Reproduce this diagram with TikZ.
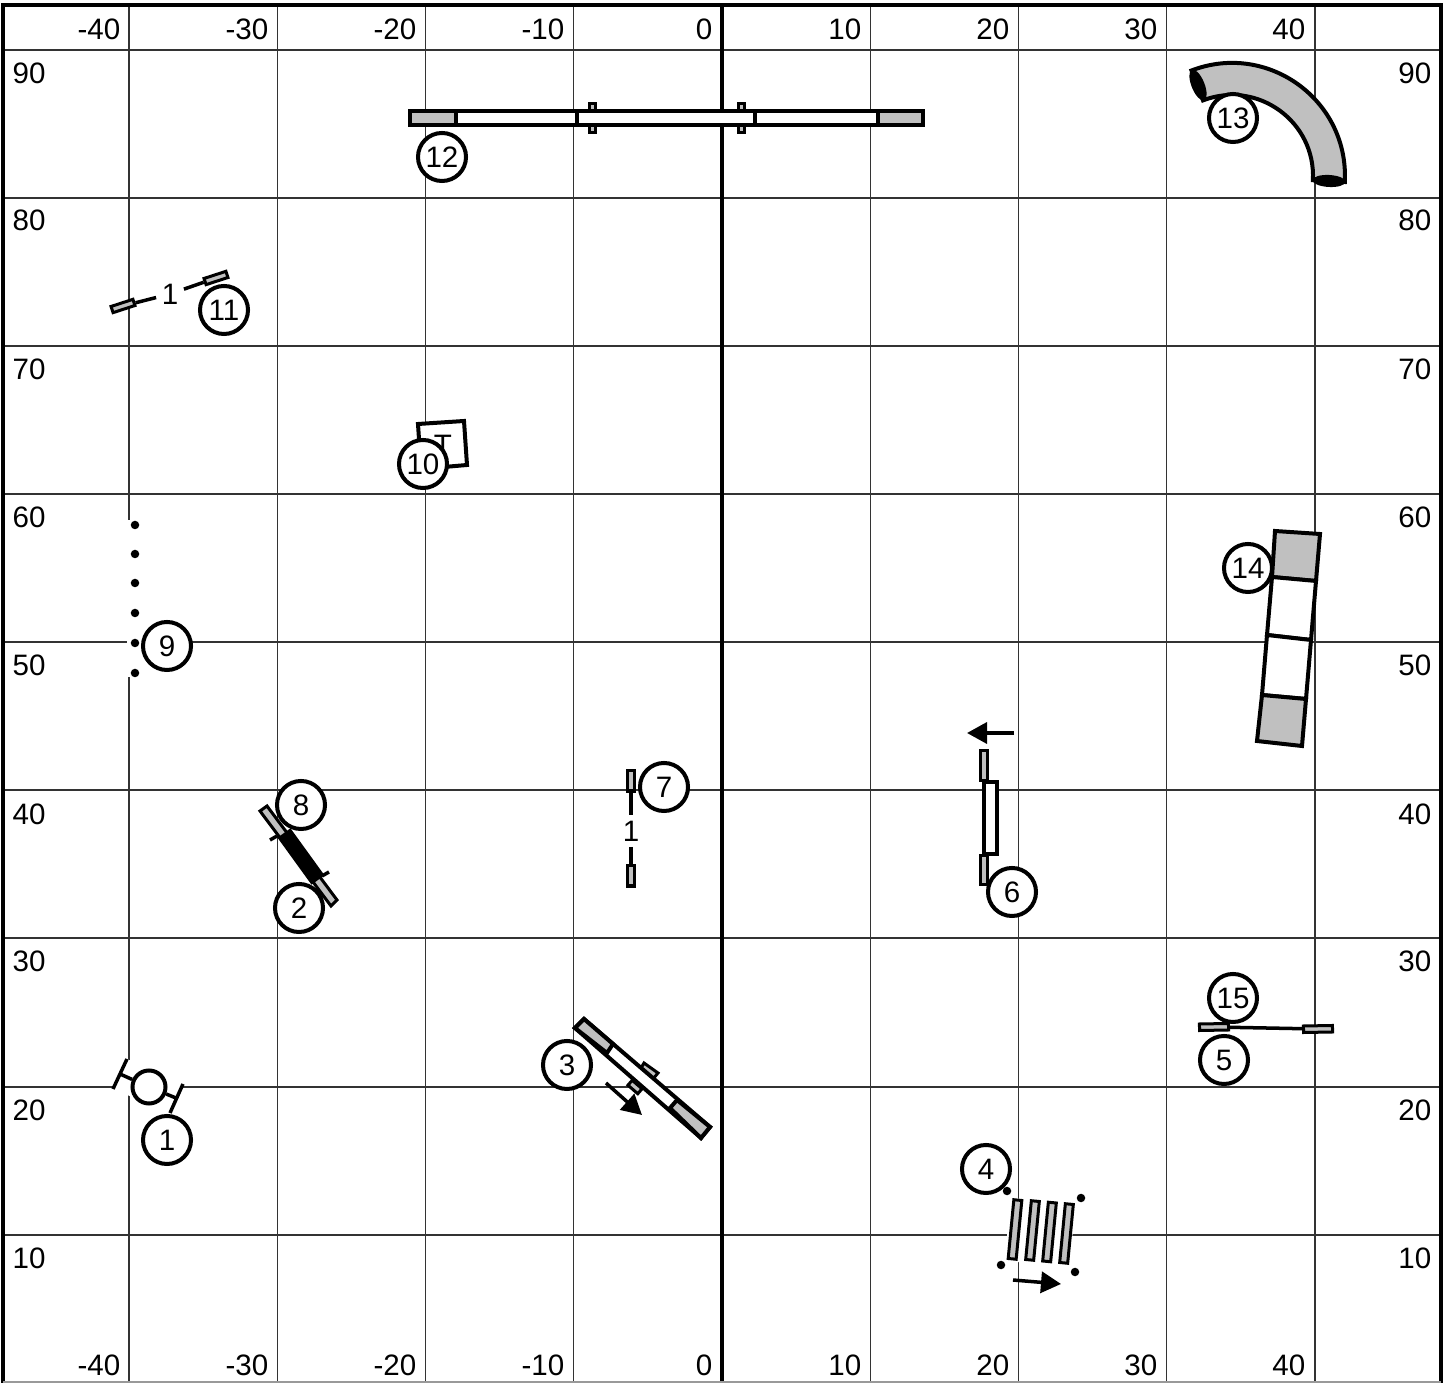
\documentclass[tikz,border=0pt]{standalone}
\usepackage{fontspec}
\setmainfont{Liberation Sans}
\usetikzlibrary{arrows.meta}
\definecolor{padgray}{HTML}{C0C0C0}
\begin{document}
\begin{tikzpicture}[x=0.01cm,y=-0.01cm,font=\fontsize{8.4pt}{10pt}\selectfont,
gridline/.style={line width=0.013cm,black!80},
axisline/.style={line width=0.035cm},
lab/.style={inner sep=0pt},
num/.style={draw,circle,fill=white,line width=0.04cm,minimum size=0.48cm,inner sep=0pt},
plank/.style={draw,line width=0.04cm,fill=white},
graypart/.style={draw,line width=0.04cm,fill=padgray},
thingray/.style={draw,line width=0.03cm,fill=padgray},
pad/.style={thingray,inner sep=0pt,minimum width=0.29cm,minimum height=0.065cm},
rung/.style={thingray,inner sep=0pt,minimum width=0.08cm,minimum height=0.59cm},
dot/.style={fill,circle,inner sep=0pt,minimum size=0.085cm},
wire/.style={line width=0.035cm},
dirarrow/.style={line width=0.035cm,-{Triangle[length=0.2cm,width=0.21cm]}}]
\useasboundingbox (0,0) rectangle (1448,1383);
\fill[white] (0,0) rectangle (1448,1383);
\foreach \x in {129,277.5,425.5,573.5,870.5,1018.5,1166.5,1315}{
\draw[gridline] (\x,5) -- (\x,1383);
}
\foreach \y in {50,198,346,494,642,790,938,1087,1235}{
\draw[gridline] (3,\y) -- (1441,\y);
}
\draw[axisline] (722,5) -- (722,1383);
\draw[axisline] (1441,1383) -- (1441,5) -- (3,5) -- (3,1383);
\draw[line width=0.015cm,black!40] (3,1382) -- (1441,1382);
\foreach \x/\val in {121/-40,269/-30,417/-20,565/-10,713/0,862/10,1010/20,1158/30,1306/40}{
\node[lab,anchor=east] at (\x,29) {\val};
\node[lab,anchor=east] at (\x,1365) {\val};
}
\foreach \y/\val in {73/90,220/80,369/70,517/60,665/50,814/40,961/30,1110/20,1258/10}{
\node[lab,anchor=west] at (12,\y) {\val};
\node[lab,anchor=east] at (1432,\y) {\val};
}

\fill[white] (127,1059) -- (183,1084) -- (170,1113) -- (113,1089) -- cycle;
\node[draw,circle,line width=0.04cm,minimum size=0.33cm,inner sep=0pt] (hoop) at (149,1087) {};
\coordinate (hoopl) at (120,1074);
\coordinate (hoopr) at (176,1098);
\draw[wire] (127,1059) -- (113,1089);
\draw[wire] (183,1084) -- (170,1113);
\draw[wire] (hoopl) -- (hoop);
\draw[wire] (hoopr) -- (hoop);

\draw[thingray] (260,811) -- (267,806) -- (337,900) -- (331,906) -- cycle;
\draw[wire] (270,840) -- (277,836);
\draw[wire] (329,872) -- (322,876);
\draw[line width=0.16cm] (284,833) -- (318,880);

\draw[thingray] (644,1063) -- (658,1073) -- (653,1079) -- (641,1068) -- cycle;
\node[thingray,inner sep=0pt,minimum width=0.13cm,minimum height=0.065cm,rotate=-41] (tabb) at (635,1087) {};
\draw[plank] (584,1019) -- (575,1028) -- (701,1138) -- (710,1127) -- cycle;
\draw[graypart] (584,1019) -- (575,1028) -- (607,1053) -- (613,1044) -- cycle;
\draw[graypart] (710,1127) -- (701,1138) -- (670,1108) -- (677,1100) -- cycle;
\coordinate (seesawa) at (606,1083);
\coordinate (seesawb) at (642,1115);
\draw[dirarrow] (seesawa) -- (seesawb);

\fill[white] (1010,1198) -- (1075,1203) -- (1070,1266) -- (1005,1261) -- cycle;
\foreach \x/\y in {1015/1229.5,1032.5/1230.5,1049.5/1232,1066.5/1233.5}{
\node[rung,rotate=-5.5] at (\x,\y) {};
}
\foreach \x/\y in {1007/1191,1081/1198,1001/1265,1075/1272}{
\node[dot] at (\x,\y) {};
}
\coordinate (spreada) at (1013,1280);
\coordinate (spreadb) at (1061,1284);
\draw[dirarrow] (spreada) -- (spreadb);

\node[pad,rotate=1] (jumpa) at (1214,1027) {};
\node[pad,rotate=1] (jumpb) at (1318,1029) {};
\draw[wire] (jumpa) -- (jumpb);

\draw[thingray] (980.5,751) rectangle (987,781);
\draw[thingray] (980.5,856) rectangle (987,885);
\draw[plank] (984,782) rectangle (997,854);
\coordinate (tablea) at (1014,733);
\coordinate (tableb) at (967,733);
\draw[dirarrow] (tablea) -- (tableb);

\node[pad,minimum width=0.2cm,rotate=90] (polea) at (631,781) {};
\node[pad,minimum width=0.2cm,rotate=90] (poleb) at (631,876) {};
\node[lab,inner sep=0.05cm] (polelab) at (631,831) {1};
\draw[wire] (polea) -- (polelab);
\draw[wire] (polelab) -- (poleb);

\node[pad,minimum width=0.23cm,rotate=18] (bara) at (123,306) {};
\node[pad,minimum width=0.23cm,rotate=18] (barb) at (216,278) {};
\node[lab,inner sep=0.05cm] (barlab) at (170,294) {1};
\draw[wire] (bara) -- (barlab);
\draw[wire] (barlab) -- (barb);

\fill[white] (127,520) rectangle (143,677);
\foreach \y in {525,554,583,613,643,673}{
\node[dot] at (135,\y) {};
}

\draw[plank] (418,424) -- (464,421) -- (467,465) -- (421,469) -- cycle;
\node[lab] (tee) at (443,445) {T};

\foreach \x in {592,741}{
\draw[thingray] (\x-3,104) rectangle (\x+3,133);
}
\draw[plank] (410,111) rectangle (923,125);
\draw[graypart] (410,111) rectangle (456,125);
\draw[graypart] (878,111) rectangle (923,125);
\draw[plank] (577,111) rectangle (755,125);

\draw[graypart] (1191.5,70.5) .. controls (1267.9,41.2) and (1349.1,100.3) .. (1344.8,182) -- (1312.9,180.2) .. controls (1315.9,121.7) and (1257.7,79.4) .. (1203,100.4) -- cycle;
\fill (1198,85) ellipse [x radius=0.165cm,y radius=0.065cm,rotate=-68];
\fill (1329,181) ellipse [x radius=0.165cm,y radius=0.06cm,rotate=-3];

\draw[graypart] (1275,531) -- (1320,534) -- (1316,581) -- (1272,577) -- cycle;
\draw[plank] (1272,577) -- (1316,581) -- (1311,640) -- (1267,635) -- cycle;
\draw[plank] (1267,635) -- (1311,640) -- (1306,699) -- (1262,695) -- cycle;
\draw[graypart] (1262,695) -- (1306,699) -- (1302,746) -- (1257,741) -- cycle;

\foreach \name/\x/\y/\val in {n1/167/1140/1,n2/299/908/2,n3/567/1065/3,n4/986/1169/4,n5/1224/1060/5,n6/1012/892/6,n7/664/787/7,n8/301/805/8,n9/167/646/9,n10/423/464/10,n11/224/310/11,n12/442/157/12,n13/1233/118/13,n14/1248/568/14,n15/1233/998/15}{
\node[num] (\name) at (\x,\y) {\val};
}
\end{tikzpicture}
\end{document}
